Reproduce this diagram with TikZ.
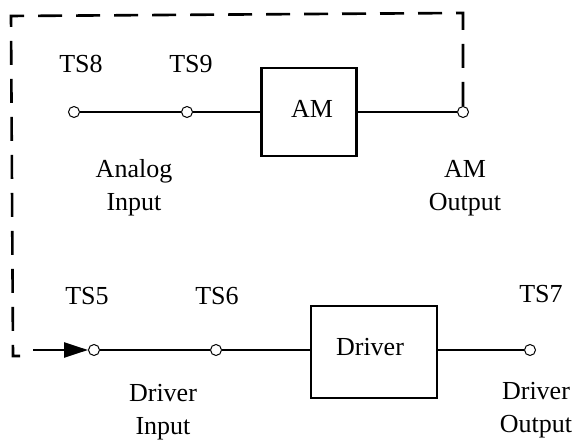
\documentclass[tikz,border=0pt]{standalone}
\usepackage{fontspec}
\setmainfont{Liberation Serif}
\usetikzlibrary{arrows.meta}
\begin{document}
\begin{tikzpicture}[x=1pt,y=-1pt,
  wire/.style={line width=2.4pt},
  term/.style={circle,draw,fill=white,line width=1pt,inner sep=0pt,minimum size=11pt},
  blk/.style={draw,line width=2.6pt,inner sep=0pt},
  lbl/.style={font=\fontsize{26}{30}\selectfont,inner sep=0pt,align=center},
  loop/.style={line width=2.6pt,dash pattern=on 24pt off 14pt}]
\useasboundingbox (0,0) rectangle (573,446);
% top row
\node[term] (ts8) at (74,112) {};
\node[term] (ts9) at (187,112) {};
\node[blk,minimum width=95pt,minimum height=88pt] (am) at (309,112) {};
\node[lbl] (amt) at (312,109) {AM};
\node[term] (amo) at (463,112) {};
\draw[wire] (ts8) -- (ts9) -- (am.west);
\draw[wire] (am.east) -- (amo);
\node[lbl] (l8) at (81,64) {TS8};
\node[lbl] (l9) at (191,64) {TS9};
\node[lbl] (ai) at (134,188) {Analog\\[3pt]Input};
\node[lbl] (ao) at (465,188) {AM\\[3pt]Output};
% bottom row
\node[term] (ts5) at (94,350) {};
\node[term] (ts6) at (216,350) {};
\node[blk,minimum width=126pt,minimum height=92pt] (drv) at (374,352) {};
\node[lbl] (drvt) at (370,347) {Driver};
\node[term] (ts7) at (530,350) {};
\draw[wire] (ts5) -- (ts6) -- (ts6 -| drv.west);
\draw[wire] (ts7 -| drv.east) -- (ts7);
\node[lbl] (l5) at (87,296) {TS5};
\node[lbl] (l6) at (217,296) {TS6};
\node[lbl] (l7) at (541,294) {TS7};
\node[lbl] (di) at (163,412) {Driver\\[3pt]Input};
\node[lbl] (do) at (536,410) {Driver\\[3pt]Output};
% feedback loop
\coordinate (tr) at (463,13);
\coordinate (tl) at (11,16);
\coordinate (bl) at (13,356);
\coordinate (be) at (20,356);
\coordinate (as) at (33,350);
\draw[loop] (amo.north) -- (tr) -- (tl) -- (bl) -- (be);
\draw[wire,-{Triangle[length=24pt,width=15pt]}] (as) -- (ts5.west);
\end{tikzpicture}
\end{document}
